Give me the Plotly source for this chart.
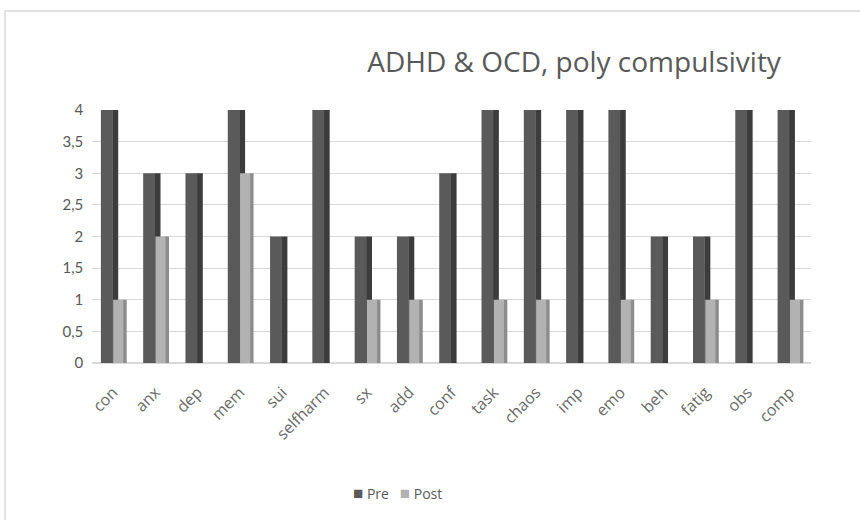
import plotly.graph_objects as go

# Symptom ratings before and after treatment
categories = ["con", "anx", "dep", "mem", "sui", "selfharm", "sx", "add", "conf",
              "task", "chaos", "imp", "emo", "beh", "fatig", "obs", "comp"]
pre = [4, 3, 3, 4, 2, 4, 2, 2, 3, 4, 4, 4, 4, 2, 2, 4, 4]
post = [1, 2, 0, 3, 0, 0, 1, 1, 0, 1, 1, 0, 1, 0, 1, 0, 1]
series_names = ["Pre", "Post"]
series_colors = ["#5a5a5a", "#b2b2b2"]
side_colors = ["#3c3c3c", "#8c8c8c"]

W, H = 860, 520
left, right, top, bottom = 92, 49, 110, 157
pw, ph = W - left - right, H - top - bottom


def px(x):
    return (x - left) / pw


def py(y):
    return (H - bottom - y) / ph


fig = go.Figure()

# pseudo-3D columns: a darker side face behind each front face
fig.add_trace(go.Bar(x=categories, y=pre, offset=-0.02, width=0.14,
                     marker=dict(color=side_colors[0], line=dict(width=0)),
                     showlegend=False, hoverinfo="skip"))
fig.add_trace(go.Bar(x=categories, y=pre, name=series_names[0], offset=-0.29, width=0.28,
                     marker=dict(color=series_colors[0], line=dict(width=0))))
fig.add_trace(go.Bar(x=categories, y=post, offset=0.22, width=0.1,
                     marker=dict(color=side_colors[1], line=dict(width=0)),
                     showlegend=False, hoverinfo="skip"))
fig.add_trace(go.Bar(x=categories, y=post, name=series_names[1], offset=0.0, width=0.24,
                     marker=dict(color=series_colors[1], line=dict(width=0))))

# compact legend line below the plot
legend_text = "   ".join(
    f"<span style='color:{c};font-size:17px'>■</span> {n}"
    for n, c in zip(series_names, series_colors)
)

fig.update_layout(
    width=W, height=H,
    margin=dict(l=left, r=right, t=top, b=bottom),
    paper_bgcolor="white", plot_bgcolor="white",
    barmode="overlay",
    separators=", ",
    showlegend=False,
    font=dict(family="Open Sans, Lato, sans-serif", color="#595959", size=14),
    title=dict(text="ADHD & OCD, poly compulsivity", x=px(572), xanchor="center",
               y=1 - 62 / H, yanchor="middle",
               font=dict(size=28, color="#595959", family="Open Sans, sans-serif")),
    xaxis=dict(tickangle=-45, showgrid=False, showline=False, ticks="",
               ticklabelstandoff=16,
               tickfont=dict(size=16, color="#6a6a6a", family="Open Sans, sans-serif")),
    yaxis=dict(range=[0, 4], dtick=0.5, showgrid=True, gridcolor="#d9d9d9",
               gridwidth=1, zeroline=True, zerolinecolor="#d9d9d9", ticks="",
               tickfont=dict(size=15, color="#595959", family="Lato, sans-serif"),
               ticksuffix="  "),
    annotations=[dict(text=legend_text, xref="paper", yref="paper",
                      x=px(397), y=py(492), xanchor="center", yanchor="middle",
                      showarrow=False,
                      font=dict(size=14, color="#595959", family="Open Sans, sans-serif"))],
    shapes=[dict(type="rect", xref="paper", yref="paper",
                 x0=px(5), x1=px(875), y0=py(535), y1=py(11),
                 line=dict(color="#d9d9d9", width=1.5), layer="below")],
)

fig.write_html("out.html")
